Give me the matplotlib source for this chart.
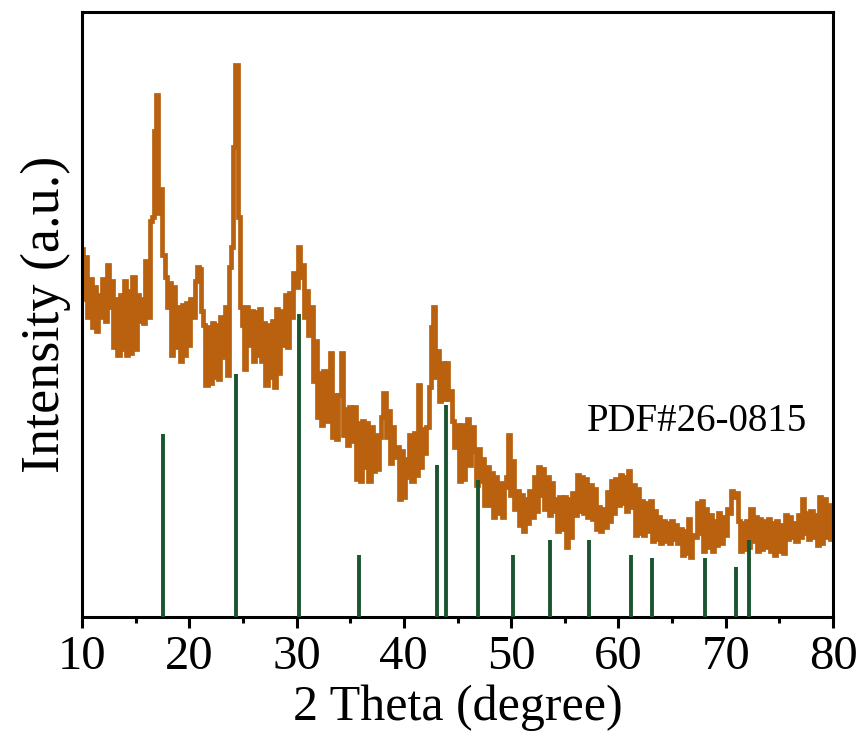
import numpy as np
import matplotlib
matplotlib.use('Agg')
import matplotlib.pyplot as plt

plt.rcParams['font.family'] = ['Liberation Serif', 'DejaVu Serif']

# ---- measured pattern, 2theta from 10 to 80 in 0.2 deg steps (a.u.) ----
theta_start, theta_step = 10.0, 0.2
intensity = [
    368, 318, 360, 300, 338, 290, 330, 286, 322, 300,   # 10.0 - 11.8
    338, 296, 352, 310, 336, 270, 318, 262, 322, 268,   # 12.0 - 13.8
    336, 262, 326, 264, 340, 268, 322, 296, 318, 294,   # 14.0 - 15.8
    356, 300, 396, 400, 486, 522, 404, 428, 362, 340,   # 16.0 - 17.8
    310, 334, 262, 330, 270, 310, 256, 312, 262, 314,   # 18.0 - 19.8
    272, 318, 300, 336, 350, 348, 306, 292, 232, 290,   # 20.0 - 21.8
    234, 294, 240, 292, 238, 300, 260, 310, 242, 350,   # 22.0 - 23.8
    370, 470, 552, 400, 310, 292, 248, 310, 272, 306,   # 24.0 - 25.8
    256, 305, 262, 308, 256, 294, 232, 292, 240, 296,   # 26.0 - 27.8
    230, 308, 244, 306, 272, 322, 270, 324, 300, 344,   # 28.0 - 29.8
    330, 370, 340, 352, 300, 326, 282, 310, 236, 276,   # 30.0 - 31.8
    200, 244, 192, 246, 196, 240, 264, 180, 222, 178,   # 32.0 - 33.8
    222, 264, 182, 208, 172, 210, 176, 210, 138, 194,   # 34.0 - 35.8
    136, 196, 150, 194, 136, 190, 146, 182, 148, 180,   # 36.0 - 37.8
    200, 224, 180, 206, 154, 190, 160, 170, 118, 166,   # 38.0 - 39.8
    120, 158, 140, 182, 136, 184, 142, 232, 150, 188,   # 40.0 - 41.8
    164, 190, 230, 290, 310, 240, 266, 216, 254, 218,   # 42.0 - 43.8
    254, 218, 226, 196, 170, 192, 136, 192, 138, 184,   # 44.0 - 45.8
    198, 152, 190, 166, 132, 168, 136, 158, 112, 150,   # 46.0 - 47.8
    112, 144, 100, 140, 104, 134, 100, 130, 140, 182,   # 48.0 - 49.8
    122, 156, 108, 126, 92, 122, 86, 118, 94, 126,      # 50.0 - 51.8
    100, 140, 106, 150, 122, 148, 108, 140, 102, 134,   # 52.0 - 53.8
    106, 118, 86, 120, 88, 120, 70, 118, 80, 124,       # 54.0 - 55.8
    102, 142, 106, 140, 104, 138, 100, 132, 98, 128,    # 56.0 - 57.8
    88, 110, 86, 108, 90, 125, 96, 136, 104, 138,       # 58.0 - 59.8
    112, 142, 114, 140, 106, 146, 110, 132, 82, 128,    # 60.0 - 61.8
    84, 116, 82, 114, 86, 116, 76, 106, 78, 100,        # 62.0 - 63.8
    74, 96, 76, 94, 74, 96, 78, 92, 74, 88,             # 64.0 - 65.8
    62, 86, 64, 98, 60, 82, 80, 114, 84, 116,           # 66.0 - 67.8
    66, 108, 70, 102, 66, 96, 72, 104, 74, 100,         # 68.0 - 69.8
    82, 108, 104, 126, 120, 124, 96, 66, 94, 68,        # 70.0 - 71.8
    96, 70, 108, 76, 100, 66, 98, 68, 96, 70,           # 72.0 - 73.8
    98, 66, 94, 62, 96, 66, 92, 64, 102, 78,            # 74.0 - 75.8
    100, 80, 94, 76, 102, 80, 118, 84, 104, 78,         # 76.0 - 77.8
    106, 80, 102, 72, 120, 74, 118, 80, 112, 78,        # 78.0 - 79.8
    106,                                                # 80.0
]
two_theta = theta_start + theta_step * np.arange(len(intensity))

# ---- standard card PDF#26-0815 ----
ref_pos = [17.55, 24.35, 30.2, 35.8, 43.05, 43.9, 46.9, 50.15, 53.6, 57.25,
           61.15, 63.1, 68.05, 71.0, 72.15]
ref_int = [183, 243, 303, 62, 152, 212, 137, 62, 77, 77,
           62, 59, 59, 50, 77]
card_label = 'PDF#26-0815'

fig = plt.figure(figsize=(8.67, 7.44), dpi=100)
ax = fig.add_axes([0.0946, 0.1707, 0.8662, 0.8132])

ax.plot(two_theta, intensity, color='#b9610f', lw=3.4, drawstyle='steps-mid',
        solid_joinstyle='miter', zorder=2)
ax.vlines(ref_pos, 0, ref_int, color='#1b5530', lw=2.8, zorder=3)
ax.text(57.1, 195, card_label, fontsize=28, ha='left', va='center')

ax.set_xlim(10, 80)
ax.set_ylim(0, 605)
ax.set_xticks(range(10, 81, 10))
ax.set_xticks(range(15, 80, 10), minor=True)
ax.set_yticks([])
ax.tick_params(axis='x', which='major', direction='out', length=8, width=2.2,
               labelsize=35, pad=5)
ax.tick_params(axis='x', which='minor', direction='out', length=4, width=2.2)
for sp in ax.spines.values():
    sp.set_linewidth(2.2)

ax.set_xlabel('2 Theta (degree)', fontsize=36, labelpad=4)
ax.set_ylabel('Intensity (a.u.)', fontsize=39, labelpad=8)

plt.savefig('out.png', dpi=100)
